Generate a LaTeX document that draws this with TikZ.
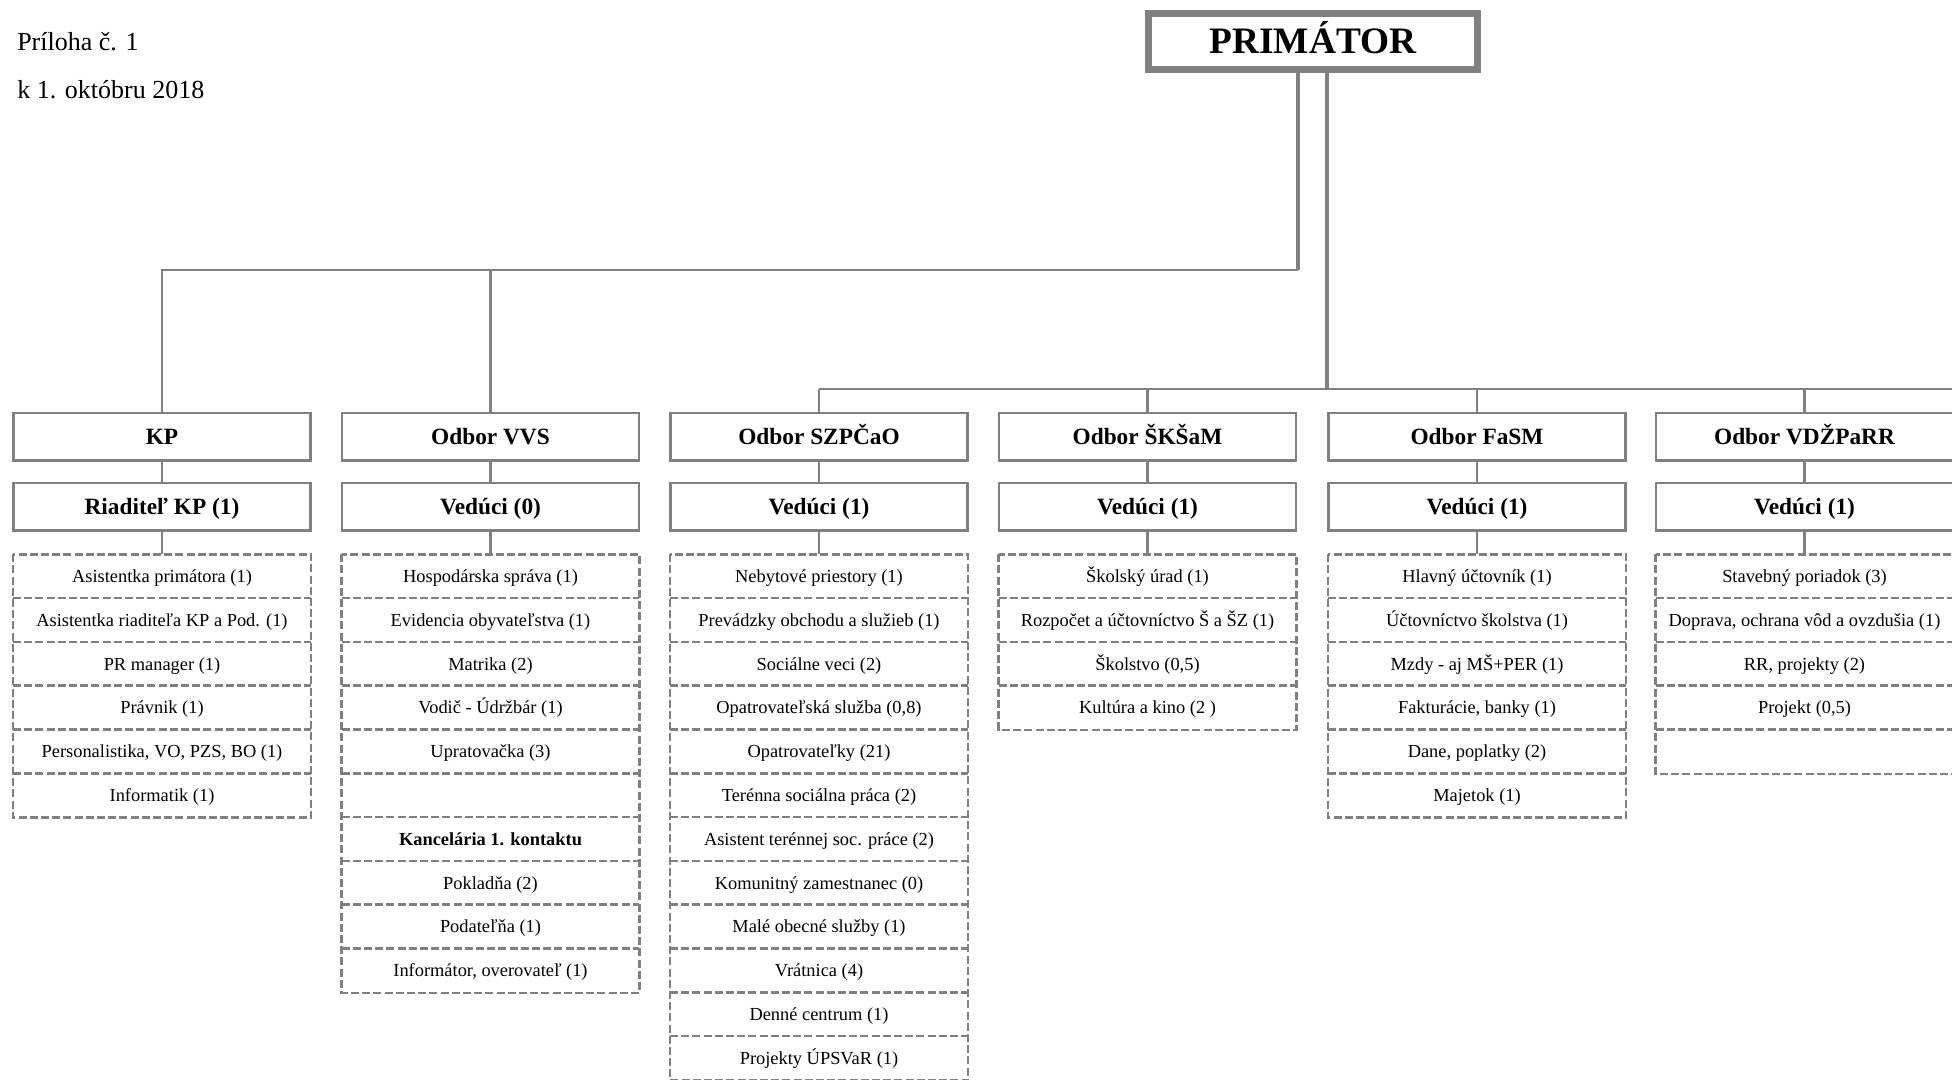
\documentclass[tikz,border=0pt]{standalone}
\usepackage{fontspec}
\setmainfont{Liberation Serif}
\definecolor{lg}{HTML}{808080}
\newcommand\orgcol[5]{%
  \node[headbox] (#1-h) at (#2,436.5) {#3};
  \node[headbox] (#1-v) at (#2,506.5) {#4};
  \draw[conn] (#1-h) -- (#1-v);
  \foreach \t [count=\i] in {#5} {
    \node[rowcell] (#1-r\i) at (#2,{554.5+43.8*(\i-0.5)}) {\t};
    \xdef\nrows{\i}
  }
  \draw[rowline] (#1-r1.north west) rectangle (#1-r\nrows.south east);
  \foreach \j in {2,...,\nrows} {
    \draw[rowline] (#1-r\j.north west) -- (#1-r\j.north east);
  }
  \draw[conn] (#1-v) -- (#1-r1.north);
}
\begin{document}
\begin{tikzpicture}[x=0.75pt,y=-0.75pt,
  conn/.style={draw=lg,line width=1.9pt},
  thickconn/.style={draw=lg,line width=3pt},
  primbox/.style={draw=lg,line width=5.25pt,minimum width=246.75pt,minimum height=42pt,inner sep=0pt,text height=18.5pt,text depth=0pt,font=\fontsize{28}{32}\selectfont\bfseries},
  headbox/.style={draw=lg,line width=1.9pt,minimum width=223pt,minimum height=35.6pt,inner sep=0pt,text height=11.6pt,text depth=0pt,font=\fontsize{17.5}{20}\selectfont\bfseries},
  rowcell/.style={minimum width=223pt,minimum height=32.85pt,inner sep=0pt,text height=9.1pt,text depth=0pt,font=\fontsize{13.8}{16}\selectfont},
  rowline/.style={draw=lg,line width=1.9pt,dash pattern=on 6pt off 2.4pt},
  note/.style={anchor=west,inner sep=0pt,font=\fontsize{19.5}{22}\selectfont}]

\useasboundingbox (0,0) rectangle (1952,1079);

\node[note] (n1) at (17,42) {Príloha č. 1};
\node[note] (n2) at (17,90) {k 1. októbru 2018};

\node[primbox] (pri) at (1313,41.5) {PRIMÁTOR};

\orgcol{kp}{162}{KP}{Riaditeľ KP (1)}{{Asistentka primátora (1)},{Asistentka riaditeľa KP a Pod. (1)},{PR manager (1)},{Právnik (1)},{Personalistika, VO, PZS, BO (1)},{Informatik (1)}}
\orgcol{vvs}{490.5}{Odbor VVS}{Vedúci (0)}{{Hospodárska správa (1)},{Evidencia obyvateľstva (1)},{Matrika (2)},{Vodič - Údržbár (1)},{Upratovačka (3)},{},{\textbf{Kancelária 1. kontaktu}},{Pokladňa (2)},{Podateľňa (1)},{Informátor, overovateľ (1)}}
\orgcol{sz}{819}{Odbor SZPČaO}{Vedúci (1)}{{Nebytové priestory (1)},{Prevádzky obchodu a služieb (1)},{Sociálne veci (2)},{Opatrovateľská služba (0,8)},{Opatrovateľky (21)},{Terénna sociálna práca (2)},{Asistent terénnej soc. práce (2)},{Komunitný zamestnanec (0)},{Malé obecné služby (1)},{Vrátnica (4)},{Denné centrum (1)},{Projekty ÚPSVaR (1)}}
\orgcol{sk}{1147.5}{Odbor ŠKŠaM}{Vedúci (1)}{{Školský úrad (1)},{Rozpočet a účtovníctvo Š a ŠZ (1)},{Školstvo (0,5)},{Kultúra a kino (2 )}}
\orgcol{fa}{1477}{Odbor FaSM}{Vedúci (1)}{{Hlavný účtovník (1)},{Účtovníctvo školstva (1)},{Mzdy - aj MŠ+PER (1)},{Fakturácie, banky (1)},{Dane, poplatky (2)},{Majetok (1)}}
\orgcol{vd}{1804.5}{Odbor VDŽPaRR}{Vedúci (1)}{{Stavebný poriadok (3)},{Doprava, ochrana vôd a ovzdušia (1)},{RR, projekty (2)},{Projekt (0,5)},{}}

\coordinate (j1) at (1298,270);
\coordinate (j2) at (1327,389);
\coordinate (e2) at (1952,389);
\draw[thickconn] (pri.south -| j1) -- (j1);
\draw[conn] (j1) -| (kp-h.north);
\draw[conn] (vvs-h.north |- j1) -- (vvs-h.north);
\draw[thickconn] (pri.south -| j2) -- (j2);
\draw[conn] (sz-h.north |- j2) -- (e2);
\draw[conn] (sz-h.north |- j2) -- (sz-h.north);
\draw[conn] (sk-h.north |- j2) -- (sk-h.north);
\draw[conn] (fa-h.north |- j2) -- (fa-h.north);
\draw[conn] (vd-h.north |- j2) -- (vd-h.north);
\end{tikzpicture}
\end{document}
